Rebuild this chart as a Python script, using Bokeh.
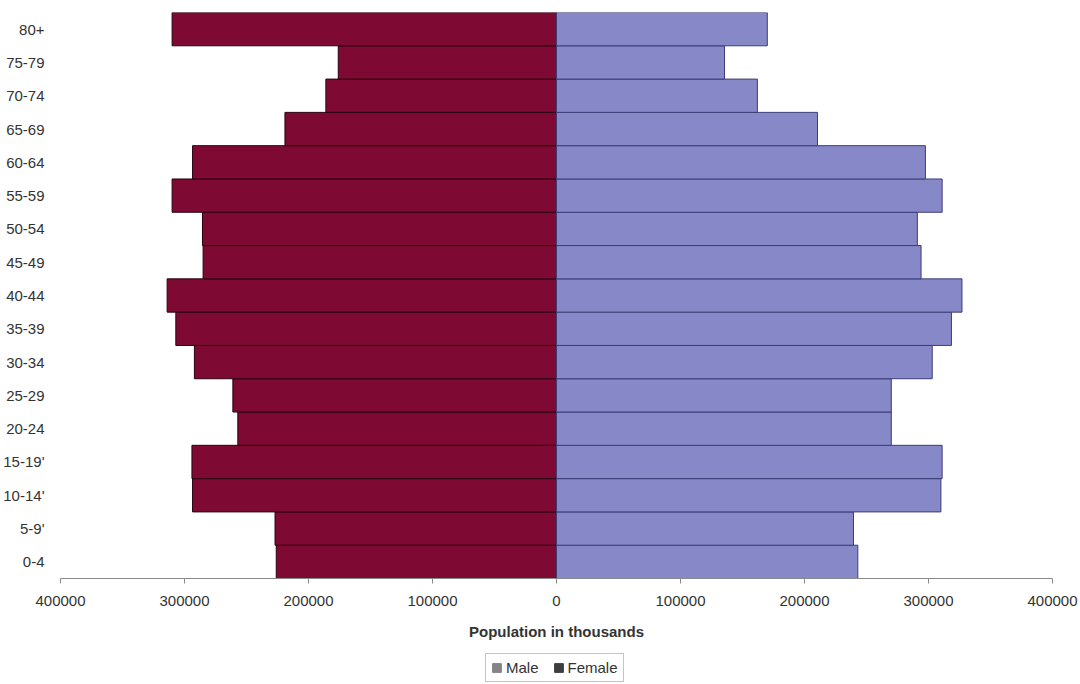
from bokeh.plotting import figure
from bokeh.layouts import column
from bokeh.models import FactorRange, FixedTicker, Legend, LegendItem, ColumnDataSource, Range1d
from bokeh.embed import file_html
from bokeh.resources import INLINE

# Age groups, bottom to top
ages = ["0-4", "5-9'", "10-14'", "15-19'", "20-24", "25-29", "30-34", "35-39",
        "40-44", "45-49", "50-54", "55-59", "60-64", "65-69", "70-74", "75-79", "80+"]

# Population in thousands
female = [226000, 227000, 293500, 294000, 257000, 261000, 292000, 307000,
          314000, 285000, 285500, 310000, 293500, 219000, 186000, 176000, 310000]
male = [243000, 239500, 310000, 311000, 270000, 270000, 303000, 318500,
        327000, 294000, 291000, 311000, 297500, 210500, 162000, 135500, 170000]

x_ticks = [-400000, -300000, -200000, -100000, 0, 100000, 200000, 300000, 400000]

FEMALE_COLOR = "#7e0a33"
MALE_COLOR = "#8688c8"
FONT = "Liberation Sans"
TEXT_COLOR = "#333333"
FS = "15px"

src = ColumnDataSource(dict(
    age=ages,
    f_left=[-v for v in female],
    m_right=male,
))

p = figure(width=1080, height=650, output_backend="svg", toolbar_location=None,
           y_range=FactorRange(factors=ages, range_padding=0),
           x_range=(x_ticks[0], x_ticks[-1]),
           min_border_left=60, min_border_right=28, min_border_top=12,
           min_border_bottom=72)
p.outline_line_color = None
p.xgrid.visible = False
p.ygrid.visible = False

p.hbar(y="age", left="f_left", right=0, height=1.0, source=src,
       fill_color=FEMALE_COLOR, line_color="#2a0010", line_width=1)
p.hbar(y="age", left=0, right="m_right", height=1.0, source=src,
       fill_color=MALE_COLOR, line_color="#3c3c78", line_width=1)

# x axis: symmetric ticks shown as absolute values
xa = p.xaxis[0]
xa.ticker = FixedTicker(ticks=x_ticks)
xa.major_label_overrides = {t: str(abs(t)) for t in x_ticks}
xa.axis_line_color = "#8a8a8a"
xa.major_tick_line_color = "#8a8a8a"
xa.major_tick_out = 5
xa.major_tick_in = 0
xa.minor_tick_line_color = None
xa.major_label_text_font = FONT
xa.major_label_text_font_size = FS
xa.major_label_text_color = TEXT_COLOR
xa.major_label_standoff = 12
xa.axis_label = "Population in thousands"
xa.axis_label_text_font = FONT
xa.axis_label_text_font_size = FS
xa.axis_label_text_font_style = "bold"
xa.axis_label_text_color = TEXT_COLOR
xa.axis_label_standoff = 14

ya = p.yaxis[0]
ya.axis_line_color = None
ya.major_tick_line_color = None
ya.minor_tick_line_color = None
ya.major_label_text_font = FONT
ya.major_label_text_font_size = FS
ya.major_label_text_color = TEXT_COLOR
ya.major_label_standoff = 10

# legend strip below the chart; key glyphs sit outside the strip's visible range
leg = figure(width=1080, height=34, output_backend="svg", toolbar_location=None,
             x_axis_location=None, y_axis_location=None, min_border=0,
             x_range=Range1d(0, 1), y_range=Range1d(0, 1))
leg.outline_line_color = None
leg.xgrid.visible = False
leg.ygrid.visible = False
male_key = leg.rect(x=[-5], y=[-5], width=1, height=1, fill_color="#858585",
                    line_color="#858585")
female_key = leg.rect(x=[-5], y=[-5], width=1, height=1, fill_color="#3e3e3e",
                      line_color="#3e3e3e")
legend = Legend(items=[LegendItem(label="Male", renderers=[male_key]),
                       LegendItem(label="Female", renderers=[female_key])],
                location=(425, 2), orientation="horizontal",
                label_text_font=FONT, label_text_font_size=FS,
                label_text_color=TEXT_COLOR, glyph_width=11, glyph_height=11,
                label_standoff=4, spacing=14, padding=5, margin=0,
                label_height=15, label_width=10,
                border_line_color="#8a8a8a", border_line_width=1,
                background_fill_alpha=1.0)
leg.add_layout(legend)

open("out.html", "w").write(file_html(column(p, leg, spacing=0), INLINE))
